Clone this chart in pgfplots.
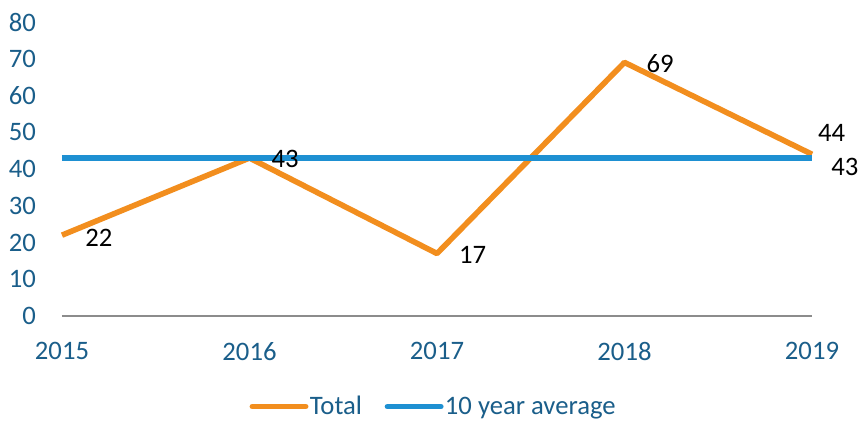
\documentclass[border=0pt]{standalone}
\usepackage{fontspec}
\setmainfont{Carlito}
\usepackage{pgfplots}
\pgfplotsset{compat=1.18}
\definecolor{ticktxt}{HTML}{1A5E8A}
\definecolor{totorange}{HTML}{F28E1E}
\definecolor{avgblue}{HTML}{1E90D2}
\definecolor{axgray}{HTML}{8C8C8C}
\begin{document}
\begin{tikzpicture}
\begin{axis}[
  scale only axis,
  width=562.5pt, height=220.5pt,
  xmin=2015, xmax=2019, ymin=0, ymax=80,
  xtick={2015,2016,2017,2018,2019},
  xticklabels={2015,2016,2017,2018,2019},
  ytick={0,10,...,80},
  axis x line*=bottom,
  axis y line*=left,
  y axis line style={draw=none},
  x axis line style={draw=axgray, line width=1.1pt, -},
  major tick length=0pt,
  tick style={draw=none},
  /pgf/number format/assume math mode=true,
  ticklabel style={font=\fontsize{20}{24}\selectfont, text=ticktxt},
  xticklabel style={yshift=-16pt},
  yticklabel style={xshift=-16pt},
  clip=false,
  legend style={at={(0.495,-0.308)}, anchor=center, draw=none, legend columns=-1,
    font=\fontsize{20}{24}\selectfont, text=ticktxt, inner sep=0pt,
    nodes={inner sep=1pt},
    /tikz/every even column/.append style={column sep=16pt}},
  legend image code/.code={\draw[#1, line cap=round] (0pt,0pt) -- (40pt,0pt);},
  legend cell align=left,
]
\addplot[color=totorange, line width=4.2pt, line join=round] coordinates {
  (2015,22) (2016,43) (2017,17) (2018,69) (2019,44)};
\addlegendentry{Total}
\addplot[color=avgblue, line width=4.2pt] coordinates {
  (2015,43) (2016,43) (2017,43) (2018,43) (2019,43)};
\addlegendentry{10 year average}
\begin{scope}[every node/.style={font=\fontsize{20}{24}\selectfont, text=black, anchor=west}]
\node at (axis cs:2015,22) [xshift=14pt, yshift=-2pt] {22};
\node at (axis cs:2016,43) [xshift=13pt, yshift=-1pt] {43};
\node at (axis cs:2017,17) [xshift=13pt, yshift=-1pt] {17};
\node at (axis cs:2018,69) [xshift=13pt, yshift=-1pt] {69};
\node at (axis cs:2019,44) [xshift=1pt, yshift=16pt] {44};
\node at (axis cs:2019,43) [xshift=11pt, yshift=-7pt] {43};
\end{scope}
\end{axis}
\pgfresetboundingbox
\path (-46.5pt,-78.75pt) rectangle (598.5pt,237pt);
\end{tikzpicture}
\end{document}
